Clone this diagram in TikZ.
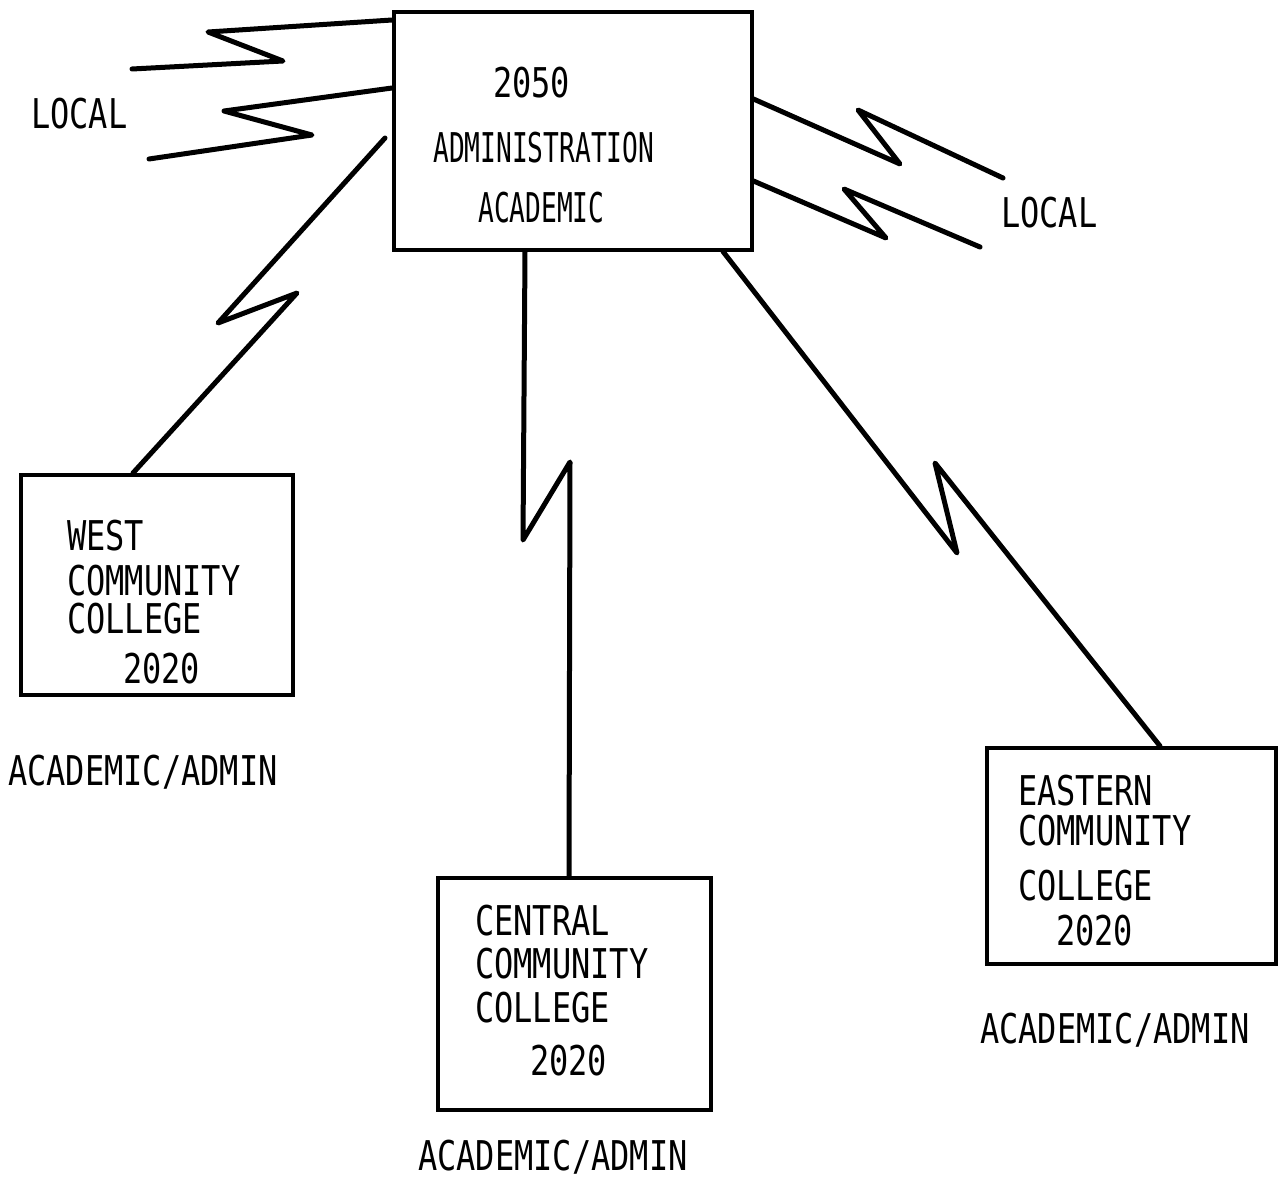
\documentclass[tikz,border=0pt]{standalone}
\usepackage{fontspec}
\newfontfamily\handA[FakeStretch=0.78]{DejaVu Sans Mono}
\newfontfamily\handB[FakeStretch=0.64]{DejaVu Sans Mono}
\usetikzlibrary{calc}
\begin{document}
\begin{tikzpicture}[x=1pt,y=-1pt,
  box/.style={draw,line width=3.5pt,inner sep=0pt,anchor=north west},
  link/.style={line width=5pt,line join=round,line cap=round},
  lbl/.style={anchor=base west,inner sep=0pt,font=\handA\fontsize{41}{44}\selectfont},
  lblb/.style={anchor=base west,inner sep=0pt,font=\handB\fontsize{41}{44}\selectfont}]
\useasboundingbox[fill=white] (0,0) rectangle (1278,1178);

% boxes
\node[box,minimum width=358pt,minimum height=238pt] (hub) at (392,10) {};
\node[box,minimum width=272pt,minimum height=220pt] (west) at (19,473) {};
\node[box,minimum width=273pt,minimum height=232pt] (central) at (436,876) {};
\node[box,minimum width=289pt,minimum height=216pt] (east) at (985,746) {};

% hub text
\node[lbl] (t2050) at (493,97) {2050};
\node[lblb] (tadm) at (433,162) {ADMINISTRATION};
\node[lblb] (tacad) at (478,222) {ACADEMIC};

% west text
\node[lbl] (w1) at (67,550) {WEST};
\node[lbl] (w2) at (67,595) {COMMUNITY};
\node[lbl] (w3) at (67,633) {COLLEGE};
\node[lbl] (w4) at (123,683) {2020};
\node[lbl] (w5) at (8,785) {ACADEMIC/ADMIN};

% central text
\node[lbl] (c1) at (475,935) {CENTRAL};
\node[lbl] (c2) at (475,978) {COMMUNITY};
\node[lbl] (c3) at (475,1022) {COLLEGE};
\node[lbl] (c4) at (530,1075) {2020};
\node[lbl] (c5) at (418,1170) {ACADEMIC/ADMIN};

% eastern text
\node[lbl] (e1) at (1018,805) {EASTERN};
\node[lbl] (e2) at (1018,845) {COMMUNITY};
\node[lbl] (e3) at (1018,900) {COLLEGE};
\node[lbl] (e4) at (1056,945) {2020};
\node[lbl] (e5) at (980,1043) {ACADEMIC/ADMIN};

% local labels
\node[lbl] (locL) at (31,128) {LOCAL};
\node[lbl] (locR) at (1001,227) {LOCAL};

% free ends of local links
\coordinate (la) at (132,69);
\coordinate (lb) at (149,159);
\coordinate (ra) at (1003,178);
\coordinate (rb) at (980,247);
\coordinate (wt) at (385,138);

% local links left
\draw[link] (hub.west |- 0,20) -- (208,32) -- (283,61) -- (la);
\draw[link] (hub.west |- 0,88) -- (224,111) -- (312,135) -- (lb);
% local links right
\draw[link] (hub.east |- 0,99) -- (900,164) -- (858,110) -- (ra);
\draw[link] (hub.east |- 0,181) -- (886,238) -- (844,189) -- (rb);

% hub to colleges
\draw[link] (wt) -- (218,323) -- (297,293) -- (west.north west -| 133,0);
\draw[link] (hub.south -| 525,0) -- (523,540) -- (570,462) -- (central.north -| 569,0);
\draw[link] (hub.south -| 723,0) -- (957,553) -- (935,463) -- (east.north -| 1160,0);
\end{tikzpicture}
\end{document}
